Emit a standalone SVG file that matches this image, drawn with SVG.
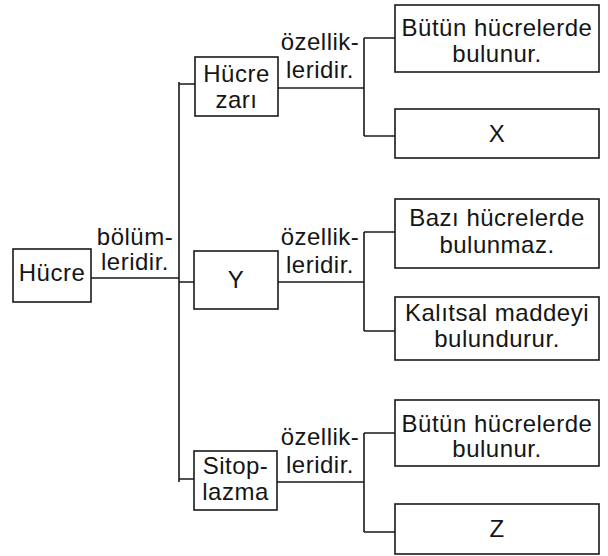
<svg xmlns="http://www.w3.org/2000/svg" width="608" height="556" viewBox="0 0 608 556">
<style>
.box{fill:#fff;stroke:#1a1a1a;stroke-width:1.6}
.ln{fill:none;stroke:#1a1a1a;stroke-width:1.6}
text{font-family:"Liberation Sans",Arial,sans-serif;font-size:24px;letter-spacing:0.5px;fill:#151515;text-anchor:middle}
</style>
<rect width="608" height="556" fill="#fff"/>
<g id="connectors">
<path class="ln" d="M91 278H179M179 82V482M179 84H195M179 282H194M179 479H194"/>
<path class="ln" d="M278 88H364M364 38V136M364 38H395M364 136H395"/>
<path class="ln" d="M278 282H364M364 232V331M364 232H395M364 331H395"/>
<path class="ln" d="M277 482H364M364 433V532M364 433H395M364 532H395"/>
<text x="135" y="245">bölüm-</text>
<text x="135" y="270">leridir.</text>
<text x="320" y="50">özellik-</text>
<text x="320" y="78">leridir.</text>
<text x="320" y="245">özellik-</text>
<text x="320" y="273">leridir.</text>
<text x="320" y="445">özellik-</text>
<text x="320" y="473">leridir.</text>
</g>
<g id="hucre"><rect class="box" x="13" y="249" width="78" height="53"/><text x="52" y="281">Hücre</text></g>
<g id="hucre-zari"><rect class="box" x="195" y="57" width="83" height="59"/><text x="236.5" y="82">Hücre</text><text x="236.5" y="108">zarı</text></g>
<g id="y"><rect class="box" x="194" y="251" width="84" height="58"/><text x="236" y="288">Y</text></g>
<g id="sitoplazma"><rect class="box" x="194" y="451" width="83" height="59"/><text x="235.5" y="474">Sitop-</text><text x="235.5" y="500">lazma</text></g>
<g id="b1"><rect class="box" x="395" y="5" width="204" height="67"/><text x="497" y="36">Bütün hücrelerde</text><text x="497" y="62">bulunur.</text></g>
<g id="x"><rect class="box" x="395" y="109" width="204" height="49"/><text x="497" y="142">X</text></g>
<g id="b2"><rect class="box" x="395" y="199" width="204" height="69"/><text x="497" y="226">Bazı hücrelerde</text><text x="497" y="253">bulunmaz.</text></g>
<g id="b3"><rect class="box" x="395" y="297" width="204" height="63"/><text x="497" y="321">Kalıtsal maddeyi</text><text x="497" y="347">bulundurur.</text></g>
<g id="b4"><rect class="box" x="395" y="400" width="204" height="66"/><text x="497" y="432">Bütün hücrelerde</text><text x="497" y="457">bulunur.</text></g>
<g id="z"><rect class="box" x="395" y="504" width="204" height="50"/><text x="497" y="537">Z</text></g>
</svg>
